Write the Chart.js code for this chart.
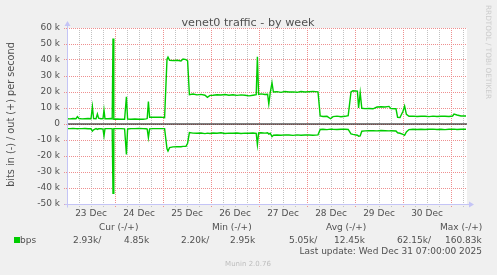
<!DOCTYPE html>
<html>
<head>
<meta charset="utf-8">
<title>venet0 traffic - by week</title>
<script src="https://cdn.jsdelivr.net/npm/chart.js@4"></script>
<style>
  html, body { margin: 0; padding: 0; background: #f0f0f0; }
  #wrap { width: 497px; height: 275px; }
</style>
</head>
<body>
<div id="wrap"><canvas id="munin" width="497" height="275"></canvas></div>
<script>
// hours since 23 Dec 00:00, out (+) and in (-) traffic in kbit/s
var hours = [0, 1.5, 3, 4.5, 5.2, 6, 7.5, 9, 10.5, 12, 12.7, 13.3, 14.5, 15.2, 15.8, 17, 18, 18.5, 19, 20.5,
  22, 22.6, 23, 23.4, 25, 27, 28.8, 29.7, 30.3, 32, 34, 36, 38, 39.5, 40.1, 40.7, 41.3, 43, 45, 47,
  48.8, 50, 50.5, 51.3, 53, 55, 57, 58, 59.5, 60.3, 61.2, 63, 65, 67, 69, 70.2, 71.5, 73, 75, 77,
  79, 81, 83, 85, 87, 89, 91, 93, 94.6, 95.2, 95.8, 97, 99, 100.3, 100.9, 101.6, 102.5, 103.2, 105, 107,
  109, 111, 113, 115, 117, 119, 121, 123, 125.5, 126.6, 128, 130, 131.8, 133, 135, 137, 139, 140.6, 142, 143,
  145.2, 145.8, 146.6, 147.4, 149, 151, 153, 155, 157, 159, 161, 162, 164.5, 165.3, 166.5, 168, 168.8, 169.7, 171, 173,
  175, 177, 179, 181, 183, 185, 187, 189, 191, 192.8, 193.5, 195, 197, 199.5];
var outK = [3.3, 3.2, 3.4, 3.3, 4.6, 3.4, 3.2, 3.3, 3.4, 3.3, 10.8, 3.4, 3.3, 6.2, 3.6, 3.3, 3.4, 8.7, 3.3, 3.3,
  3.4, 3.2, 53.5, 3.0, 3.1, 3.0, 3.0, 17, 3.1, 3.0, 3.1, 3.0, 3.0, 3.2, 3.4, 14, 4.2, 4.3, 4.2, 4.3,
  4.0, 40.5, 41.8, 39.8, 39.6, 39.8, 39.4, 40.6, 40.2, 39.5, 18.3, 18.7, 18.2, 18.5, 18.0, 16.7, 17.9, 18.0, 18.3, 18.1,
  18.4, 18.0, 18.3, 17.9, 18.2, 18.0, 17.6, 18.0, 18.3, 42, 18.5, 18.8, 18.4, 18.6, 12.5, 19.5, 25.8, 20.0, 20.2, 19.8,
  20.3, 20.0, 20.1, 19.8, 20.3, 20.0, 20.2, 20.4, 20.1, 5.0, 4.7, 4.8, 3.3, 4.6, 4.9, 4.5, 4.8, 5.2, 20.0, 20.8,
  20.6, 10.0, 19.5, 9.8, 9.6, 9.7, 9.5, 10.6, 10.8, 10.6, 11.0, 9.6, 9.5, 4.2, 4.0, 8.0, 11.2, 6.0, 4.8, 4.9,
  4.7, 4.8, 4.8, 4.6, 4.9, 4.7, 4.8, 4.8, 4.7, 5.0, 6.2, 5.6, 5.0, 5.0];
var inK = [-2.9, -2.9, -2.8, -2.9, -3.0, -2.9, -2.9, -2.8, -3.0, -3.0, -4.4, -3.6, -2.9, -3.4, -3.0, -3.0, -3.2, -7.5, -2.9, -2.9,
  -2.9, -3.0, -43.3, -2.9, -2.9, -2.9, -3.0, -19, -3.1, -2.9, -2.9, -2.8, -2.9, -3.0, -3.2, -8.5, -3.0, -2.9, -2.9, -2.9,
  -2.9, -15.5, -16.9, -14.8, -14.3, -14.2, -14.2, -14.0, -14.0, -12, -5.4, -5.7, -5.8, -5.6, -6.0, -5.7, -5.9, -5.6, -5.8, -5.5,
  -5.9, -5.7, -5.8, -5.6, -5.9, -5.7, -5.8, -5.6, -5.8, -12.9, -5.6, -5.5, -5.7, -5.5, -6.3, -5.8, -7.9, -7.0, -6.9, -7.0,
  -6.8, -6.9, -7.1, -6.8, -7.0, -6.9, -6.9, -7.0, -6.8, -3.4, -3.3, -3.5, -3.2, -3.3, -3.4, -3.3, -3.3, -3.4, -6.2, -6.5,
  -7.0, -7.6, -7.4, -4.5, -4.3, -4.2, -4.2, -4.3, -4.1, -4.2, -4.3, -4.2, -4.4, -5.5, -5.8, -6.5, -7.1, -5.0, -3.5, -3.3,
  -3.4, -3.3, -3.4, -3.3, -3.2, -3.4, -3.3, -3.5, -3.3, -3.3, -3.2, -3.4, -3.3, -3.3];

var dayLabels = ['23 Dec', '24 Dec', '25 Dec', '26 Dec', '27 Dec', '28 Dec', '29 Dec', '30 Dec'];
var gridHours = [];
for (var g = 0; g < 200; g += 6) gridHours.push(g);

var statHeaders = ['Cur (-/+)', 'Min (-/+)', 'Avg (-/+)', 'Max (-/+)'];
var statValues = [['2.93k/', '4.85k'], ['2.20k/', '2.95k'], ['5.05k/', '12.45k'], ['62.15k/', '160.83k']];
var lastUpdate = 'Last update: Wed Dec 31 07:00:00 2025';

var FONT = '"DejaVu Sans", sans-serif';
var TEXT = '#505050';
var MAJOR = '#ee8f8f';
var MINOR = '#c2c2c2';
var AXIS = '#c4c4f6';
var GREEN = '#00cc00';

var muninDecor = {
  id: 'muninDecor',
  beforeDraw: function (chart) {
    var a = chart.chartArea, c = chart.ctx;
    c.save();
    c.fillStyle = '#f0f0f0';
    c.fillRect(0, 0, chart.width, chart.height);
    c.fillStyle = '#ffffff';
    c.fillRect(a.left, a.top, a.right - a.left, a.bottom - a.top);
    c.restore();
  },
  afterDraw: function (chart) {
    var a = chart.chartArea, c = chart.ctx;
    var L = Math.round(a.left) + 0.5, B = Math.round(a.bottom) + 0.5;
    c.save();
    // axes with arrows
    c.strokeStyle = AXIS;
    c.lineWidth = 1;
    c.beginPath();
    c.moveTo(L, B + 3); c.lineTo(L, a.top - 4);
    c.moveTo(L - 3, B); c.lineTo(a.right + 4, B);
    c.stroke();
    c.fillStyle = AXIS;
    c.beginPath();
    c.moveTo(L - 3, a.top - 2); c.lineTo(L + 3, a.top - 2); c.lineTo(L, a.top - 7);
    c.closePath(); c.fill();
    c.beginPath();
    c.moveTo(a.right + 2, B - 3); c.lineTo(a.right + 2, B + 3); c.lineTo(a.right + 7, B);
    c.closePath(); c.fill();

    // title
    c.fillStyle = TEXT;
    c.font = '11.2px ' + FONT;
    c.textAlign = 'center';
    c.textBaseline = 'alphabetic';
    c.fillText('venet0 traffic - by week', 248, 26);

    // vertical axis label
    c.save();
    c.translate(11, 114.5);
    c.rotate(-Math.PI / 2);
    c.font = '9.7px ' + FONT;
    c.textBaseline = 'middle';
    c.fillText('bits in (-) / out (+) per second', 0, 0);
    c.restore();

    // legend
    c.font = '9px ' + FONT;
    c.textAlign = 'left';
    var hx = [99, 212, 326, 440];
    statHeaders.forEach(function (t, i) { c.fillText(t, hx[i], 230); });
    c.fillStyle = GREEN;
    c.fillRect(14, 237, 6, 6);
    c.fillStyle = TEXT;
    c.fillText('bps', 20, 242.5);
    var vx = [[73, 124], [181, 230], [289, 334], [397, 445]];
    statValues.forEach(function (p, i) {
      c.fillText(p[0], vx[i][0], 242.5);
      c.fillText(p[1], vx[i][1], 242.5);
    });
    c.textAlign = 'right';
    c.fillText(lastUpdate, 482, 254.3);

    // footer + watermark
    c.fillStyle = '#bdbdbd';
    c.font = '7px ' + FONT;
    c.textAlign = 'center';
    c.fillText('Munin 2.0.76', 248, 265.5);
    c.save();
    c.translate(487.5, 5);
    c.rotate(Math.PI / 2);
    c.fillStyle = '#cccccc';
    c.font = '7.3px ' + FONT;
    c.textAlign = 'left';
    c.textBaseline = 'middle';
    c.fillText('RRDTOOL / TOBI OETIKER', 0, 0);
    c.restore();
    c.restore();
  }
};

function pts(vals) {
  return hours.map(function (h, i) { return { x: h, y: vals[i] }; });
}

new Chart(document.getElementById('munin'), {
  type: 'line',
  data: {
    datasets: [{
      label: 'zero',
      data: [{ x: 0, y: 0 }, { x: 200, y: 0 }],
      borderColor: '#000000',
      borderWidth: 1
    }, {
      label: 'out',
      data: pts(outK),
      borderColor: GREEN,
      borderWidth: 1.4
    }, {
      label: 'in',
      data: pts(inK),
      borderColor: GREEN,
      borderWidth: 1.4
    }]
  },
  options: {
    responsive: false,
    animation: false,
    events: [],
    layout: { padding: { left: 0, top: 28, right: 30, bottom: 51 } },
    elements: { point: { radius: 0 }, line: { tension: 0 } },
    plugins: { legend: { display: false }, title: { display: false }, tooltip: { enabled: false } },
    scales: {
      x: {
        type: 'linear',
        min: 0,
        max: 200,
        afterBuildTicks: function (axis) {
          axis.ticks = gridHours.map(function (v) { return { value: v }; });
        },
        afterFit: function (s) { s.height = 20; },
        ticks: {
          autoSkip: false,
          maxRotation: 0,
          padding: 1,
          color: TEXT,
          font: { family: FONT, size: 9 },
          callback: function (v) {
            return (v - 12) % 24 === 0 ? dayLabels[(v - 12) / 24] : '';
          }
        },
        grid: {
          color: function (ctx) { return ctx.tick && ctx.tick.value % 24 === 0 ? MAJOR : MINOR; },
          tickLength: 3,
          tickBorderDash: [1, 1]
        },
        border: { display: false, dash: [1, 1] }
      },
      y: {
        min: -50,
        max: 60,
        afterFit: function (s) { s.width = 67; },
        ticks: {
          stepSize: 5,
          padding: 4,
          color: TEXT,
          font: { family: FONT, size: 9 },
          callback: function (v) {
            if (v % 10 !== 0) return '';
            return v === 0 ? '0' : v + ' k';
          }
        },
        grid: {
          color: function (ctx) { return ctx.tick && ctx.tick.value % 10 === 0 ? MAJOR : MINOR; },
          tickLength: 3,
          tickBorderDash: [1, 1]
        },
        border: { display: false, dash: [1, 1] }
      }
    }
  },
  plugins: [muninDecor]
});
</script>
</body>
</html>
